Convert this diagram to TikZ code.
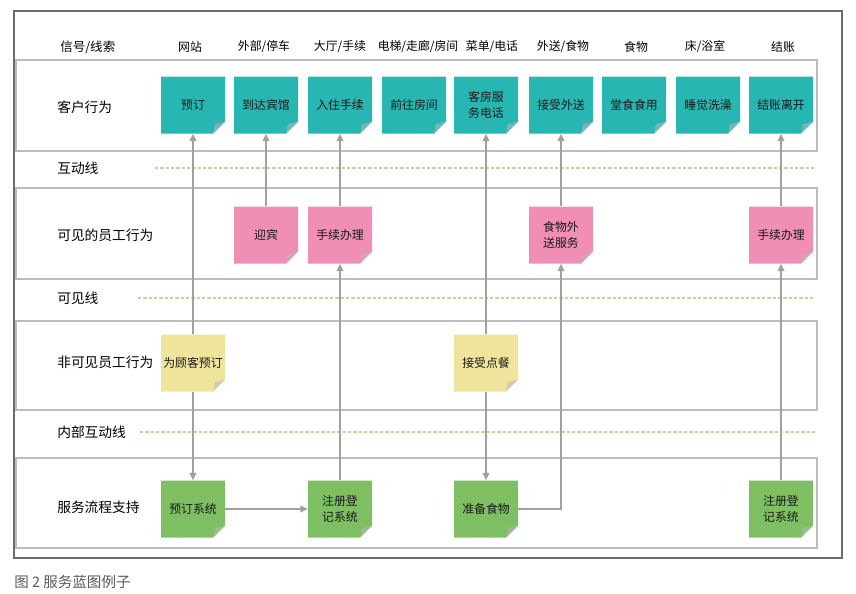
\documentclass[tikz,border=0pt]{standalone}
\usepackage{fontspec}
\newfontfamily\cjk{Noto Sans CJK SC}
\usetikzlibrary{arrows.meta}
\definecolor{cteal}{HTML}{27B6B1}
\definecolor{cpink}{HTML}{F08EB6}
\definecolor{cyellow}{HTML}{EEE49C}
\definecolor{cgreen}{HTML}{7EBF63}
\definecolor{lanegray}{HTML}{BDBDBD}
\definecolor{framegray}{HTML}{6B6B6B}
\definecolor{dashtan}{HTML}{D8C79C}
\definecolor{flowgray}{HTML}{A0A0A0}
\definecolor{capgray}{HTML}{5A5A5A}
\tikzset{
  card/.style={minimum width=48pt, minimum height=42.75pt, inner sep=1pt, align=center,
    font=\cjk\fontsize{8.9}{11.5}\selectfont, text=black!90,
    path picture={
      \fill[#1] (path picture bounding box.north west) -- (path picture bounding box.north east)
        -- ([yshift=9pt]path picture bounding box.south east) -- ([xshift=-9pt]path picture bounding box.south east)
        -- (path picture bounding box.south west) -- cycle;
      \fill[#1!55!white!85!black] ([yshift=9pt]path picture bounding box.south east)
        -- ([xshift=-9pt]path picture bounding box.south east) -- ([xshift=-7.5pt,yshift=7pt]path picture bounding box.south east) -- cycle;
    }},
  head/.style={font=\cjk\fontsize{8.9}{11}\selectfont},
  lbl/.style={anchor=west, inner sep=0pt, font=\cjk\fontsize{10.3}{12}\selectfont},
  lane/.style={draw=lanegray, line width=0.9pt},
  sepline/.style={draw=dashtan, line width=0.9pt, dash pattern=on 2.5pt off 1.5pt},
  flow/.style={draw=flowgray, line width=1.1pt, -{Triangle[width=5pt,length=5.5pt]}}
}
\begin{document}
\begin{tikzpicture}[x=0.75pt,y=-0.75pt,font=\cjk]
  \useasboundingbox (0,0) rectangle (856,593);
  \draw[draw=framegray, line width=1.2pt] (14,11) rectangle (842,558);
  \draw[lane] (16,60) rectangle (817,151);
  \draw[lane] (16,188) rectangle (817,279);
  \draw[lane] (16,321) rectangle (817,410);
  \draw[lane] (16,458) rectangle (817,548);
  \draw[sepline] (155,168) -- (815,168);
  \draw[sepline] (138,298) -- (815,298);
  \draw[sepline] (140,432) -- (815,432);
  \path
    (60,47) node[lbl,font=\cjk\fontsize{9.4}{11}\selectfont] (hsig){信号/线索}
    (190,47) node[head] (h1){网站}
    (264,47) node[head] (h2){外部/停车}
    (340,47) node[head] (h3){大厅/手续}
    (418,47) node[head] (h4){电梯/走廊/房间}
    (492,47) node[head] (h5){菜单/电话}
    (563,47) node[head] (h6){外送/食物}
    (636,47) node[head] (h7){食物}
    (705,47) node[head] (h8){床/浴室}
    (783,47) node[head] (h9){结账};
  \path
    (57,107) node[lbl] (lcust){客户行为}
    (57,168) node[lbl] (linter){互动线}
    (57,235) node[lbl] (lvis){可见的员工行为}
    (57,298) node[lbl] (lvisline){可见线}
    (57,362) node[lbl] (linvis){非可见员工行为}
    (57,432) node[lbl] (linner){内部互动线}
    (57,507) node[lbl] (lsup){服务流程支持};
  \path
    (193,105) node[card=cteal] (c1){预订}
    (266,105) node[card=cteal] (c2){到达宾馆}
    (340,105) node[card=cteal] (c3){入住手续}
    (414,105) node[card=cteal] (c4){前往房间}
    (486,105) node[card=cteal] (c5){客房服\\务电话}
    (561,105) node[card=cteal] (c6){接受外送}
    (634,105) node[card=cteal] (c7){堂食食用}
    (708,105) node[card=cteal] (c8){睡觉洗澡}
    (781,105) node[card=cteal] (c9){结账离开}
    (266,235) node[card=cpink] (v2){迎宾}
    (340,235) node[card=cpink] (v3){手续办理}
    (561,235) node[card=cpink] (v6){食物外\\送服务}
    (781,235) node[card=cpink] (v9){手续办理}
    (193,363) node[card=cyellow] (i1){为顾客预订}
    (486,363) node[card=cyellow] (i5){接受点餐}
    (193,509) node[card=cgreen] (s1){预订系统}
    (340,509) node[card=cgreen] (s3){注册登\\记系统}
    (486,509) node[card=cgreen] (s5){准备食物}
    (781,509) node[card=cgreen] (s9){注册登\\记系统};
  \begin{scope}[flow]
    \draw[{Triangle[width=5pt,length=5.5pt]}-] (c1) to (i1);
    \draw (i1) to (s1);
    \draw (v2) to (c2);
    \draw[{Triangle[width=5pt,length=5.5pt]}-] (c3) to (v3);
    \draw (s3) to (v3);
    \draw (s1) to (s3);
    \draw[{Triangle[width=5pt,length=5.5pt]}-] (c5) to (i5);
    \draw (i5) to (s5);
    \draw (s5) -| (v6);
    \draw[{Triangle[width=5pt,length=5.5pt]}-] (c6) to (v6);
    \draw[{Triangle[width=5pt,length=5.5pt]}-] (c9) to (v9);
    \draw (s9) to (v9);
  \end{scope}
  \node[anchor=west, inner sep=0pt, text=capgray, font=\cjk\fontsize{10.9}{13}\selectfont] (cap) at (14,582) {图 2\ 服务蓝图例子};
\end{tikzpicture}
\end{document}
